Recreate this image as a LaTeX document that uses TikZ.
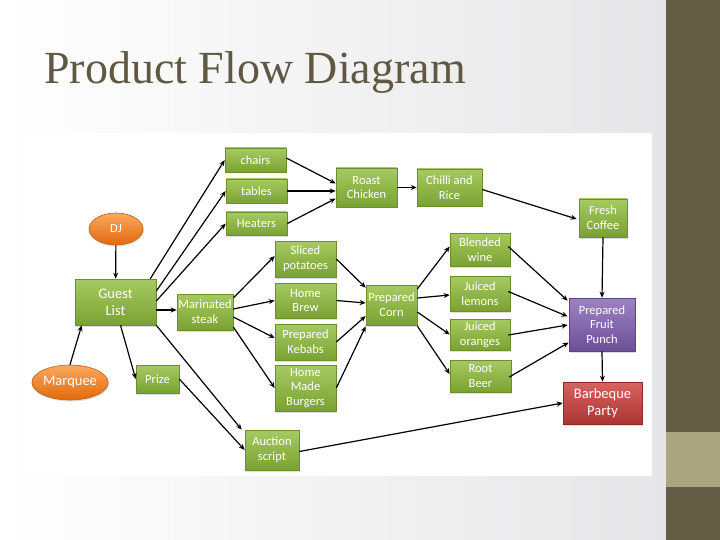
\documentclass[tikz,border=0pt]{standalone}
\usepackage{fontspec}
\newfontfamily\carlito{Carlito}
\newfontfamily\titlefont{Liberation Serif}
\usetikzlibrary{arrows.meta,calc,shadows,shapes.geometric}
\definecolor{titlecol}{HTML}{5F5843}
\definecolor{barcol}{HTML}{655D46}
\definecolor{bandcol}{HTML}{A8A57F}
\definecolor{bggray}{HTML}{E6E6E8}
\definecolor{gtop}{HTML}{A6CA62}
\definecolor{gbot}{HTML}{7AA232}
\definecolor{gbrd}{HTML}{6C8E2E}
\definecolor{ptop}{HTML}{9C82C2}
\definecolor{pbot}{HTML}{6E4F98}
\definecolor{pbrd}{HTML}{5C4484}
\definecolor{rtop}{HTML}{D8625E}
\definecolor{rbot}{HTML}{AA3532}
\definecolor{rbrd}{HTML}{8C2A27}
\definecolor{otop}{HTML}{FAA95E}
\definecolor{obot}{HTML}{E2690C}
\definecolor{obrd}{HTML}{C45E0E}
\tikzset{
  boxbase/.style={rectangle, inner sep=0pt, align=center, text=white,
    font=\carlito\fontsize{12.5}{14.7}\selectfont, line width=0.6pt,
    drop shadow={opacity=0.25, shadow xshift=1pt, shadow yshift=-1.5pt}},
  gbox/.style={boxbase, draw=gbrd, top color=gtop, bottom color=gbot},
  pbox/.style={boxbase, draw=pbrd, top color=ptop, bottom color=pbot},
  rbox/.style={boxbase, draw=rbrd, top color=rtop, bottom color=rbot},
  obox/.style={ellipse, inner sep=0pt, align=center, text=white,
    font=\carlito\fontsize{12.5}{14.7}\selectfont, line width=0.6pt,
    draw=obrd, top color=otop, bottom color=obot,
    drop shadow={opacity=0.25, shadow xshift=1pt, shadow yshift=-1.5pt}},
  big/.style={font=\carlito\fontsize{14.5}{17}\selectfont},
  arr/.style={-{Stealth[length=6pt,width=5pt]}, line width=1.2pt, black},
}
\begin{document}
\begin{tikzpicture}[x=1pt,y=-1pt]
\useasboundingbox (0,0) rectangle (720,540);
% background
\shade[left color=white, right color=bggray] (0,0) rectangle (666,540);
\fill[white] (20,133) rectangle (652,476);
\fill[barcol] (666,0) rectangle (720,540);
\fill[bandcol] (666,432) rectangle (720,487);
% title
\node[anchor=base west, inner sep=0pt, text=titlecol, font=\titlefont\fontsize{46}{50}\selectfont] (title) at (44,84) {Product Flow Diagram};
% nodes
\node[gbox, minimum width=61pt, minimum height=24pt] (chairs) at (255.5,160) {chairs};
\node[gbox, minimum width=61pt, minimum height=24pt] (tables) at (256.5,191) {tables};
\node[gbox, minimum width=61pt, minimum height=23pt] (heaters) at (256.5,223.5) {Heaters};
\node[obox, minimum width=54pt, minimum height=32pt] (dj) at (116,229) {DJ};
\node[gbox, big, minimum width=81pt, minimum height=46pt] (gl) at (115.5,302) {Guest\\List};
\node[gbox, minimum width=56pt, minimum height=36pt] (steak) at (205,312) {Marinated\\steak};
\node[gbox, minimum width=61pt, minimum height=36pt] (sliced) at (305.5,259) {Sliced\\potatoes};
\node[gbox, minimum width=61pt, minimum height=35pt] (brew) at (305.5,300.5) {Home\\Brew};
\node[gbox, minimum width=61pt, minimum height=36pt] (kebabs) at (305.5,342) {Prepared\\Kebabs};
\node[gbox, minimum width=61pt, minimum height=46pt] (burgers) at (305.5,388) {Home\\Made\\Burgers};
\node[gbox, minimum width=61pt, minimum height=39pt] (roast) at (366.5,187.5) {Roast\\Chicken};
\node[gbox, minimum width=65pt, minimum height=37pt] (chilli) at (449.5,187.5) {Chilli and\\Rice};
\node[gbox, minimum width=60pt, minimum height=33pt] (blended) at (480,249.5) {Blended\\wine};
\node[gbox, minimum width=60pt, minimum height=35pt] (lemons) at (480,293.5) {Juiced\\lemons};
\node[gbox, minimum width=60pt, minimum height=31pt] (oranges) at (480,334.5) {Juiced\\oranges};
\node[gbox, minimum width=61pt, minimum height=32pt] (rootbeer) at (480.5,376) {Root\\Beer};
\node[gbox, minimum width=51pt, minimum height=40pt] (corn) at (391.5,305) {Prepared\\Corn};
\node[gbox, minimum width=54pt, minimum height=40pt] (auction) at (272,450) {Auction\\script};
\node[gbox, minimum width=43pt, minimum height=28pt] (prize) at (157.5,379) {Prize};
\node[obox, big, minimum width=66pt, minimum height=35pt] (marquee) at (70,382.5) {Marquee};
\node[gbox, minimum width=48pt, minimum height=38pt] (coffee) at (603,218) {Fresh\\Coffee};
\node[pbox, minimum width=66pt, minimum height=53pt] (punch) at (602,324.5) {Prepared\\Fruit\\Punch};
\node[rbox, big, minimum width=79pt, minimum height=42pt] (party) at (602.5,403) {Barbeque\\Party};
% connectors
\draw[arr] (dj) -- (gl);
\draw[arr] (marquee.north) -- ($(gl.south west)+(7,0)$);
\draw[arr] ($(gl.north east)+(-6,0)$) -- (chairs.west);
\draw[arr] ($(gl.east)+(0,-11)$) -- (tables.west);
\draw[arr] ($(gl.east)+(0,-1)$) -- (heaters.west);
\draw[arr] ($(gl.east)+(0,8)$) -- ($(steak.west)+(0,-2)$);
\draw[arr] ($(gl.south)+(5,0)$) -- (prize.west);
\draw[arr] (gl.south east) -- ($(auction.north west)+(-3,0)$);
\draw[arr] (prize.east) -- (auction.west);
\draw[arr] ($(chairs.east)+(0,-2)$) -- ($(roast.west)+(0,-4)$);
\draw[arr] (tables.east) -- ($(roast.west)+(0,3.5)$);
\draw[arr] (heaters.east) -- ($(roast.west)+(0,11)$);
\draw[arr] (roast.east) -- (chilli.west);
\draw[arr] ($(chilli.east)+(0,2)$) -- ($(coffee.west)+(-2,1)$);
\draw[arr] ($(steak.east)+(0,-14)$) -- ($(sliced.west)+(0,-3)$);
\draw[arr] ($(steak.east)+(0,-3)$) -- (brew.west);
\draw[arr] ($(steak.east)+(0,5)$) -- ($(kebabs.west)+(0,-4)$);
\draw[arr] ($(steak.east)+(0,15)$) -- (burgers.west);
\draw[arr] (sliced.east) -- ($(corn.north west)+(0,3)$);
\draw[arr] (brew.east) -- ($(corn.west)+(0,-2)$);
\draw[arr] (kebabs.east) -- ($(corn.west)+(0,11)$);
\draw[arr] (burgers.east) -- ($(corn.south west)+(0,1)$);
\draw[arr] ($(corn.east)+(0,-16)$) -- ($(blended.west)+(0,-3)$);
\draw[arr] ($(corn.east)+(0,-7)$) -- ($(lemons.west)+(0,1.5)$);
\draw[arr] ($(corn.east)+(0,7)$) -- (oranges.west);
\draw[arr] ($(corn.east)+(0,21)$) -- ($(rootbeer.west)+(0,-2)$);
\draw[arr] ($(blended.east)+(-2,-3)$) -- ($(punch.north west)+(-1,3)$);
\draw[arr] ($(lemons.east)+(-2,-2)$) -- ($(punch.west)+(-1,-8)$);
\draw[arr] ($(oranges.east)+(-2,0.5)$) -- ($(punch.west)+(-1,0.5)$);
\draw[arr] ($(rootbeer.east)+(-2,1)$) -- ($(punch.west)+(0,18)$);
\draw[arr] (coffee.south) -- (punch.north);
\draw[arr] (punch.south) -- (party.north);
\draw[arr] ($(auction.east)+(0,1.5)$) -- (party.west);
\end{tikzpicture}
\end{document}
